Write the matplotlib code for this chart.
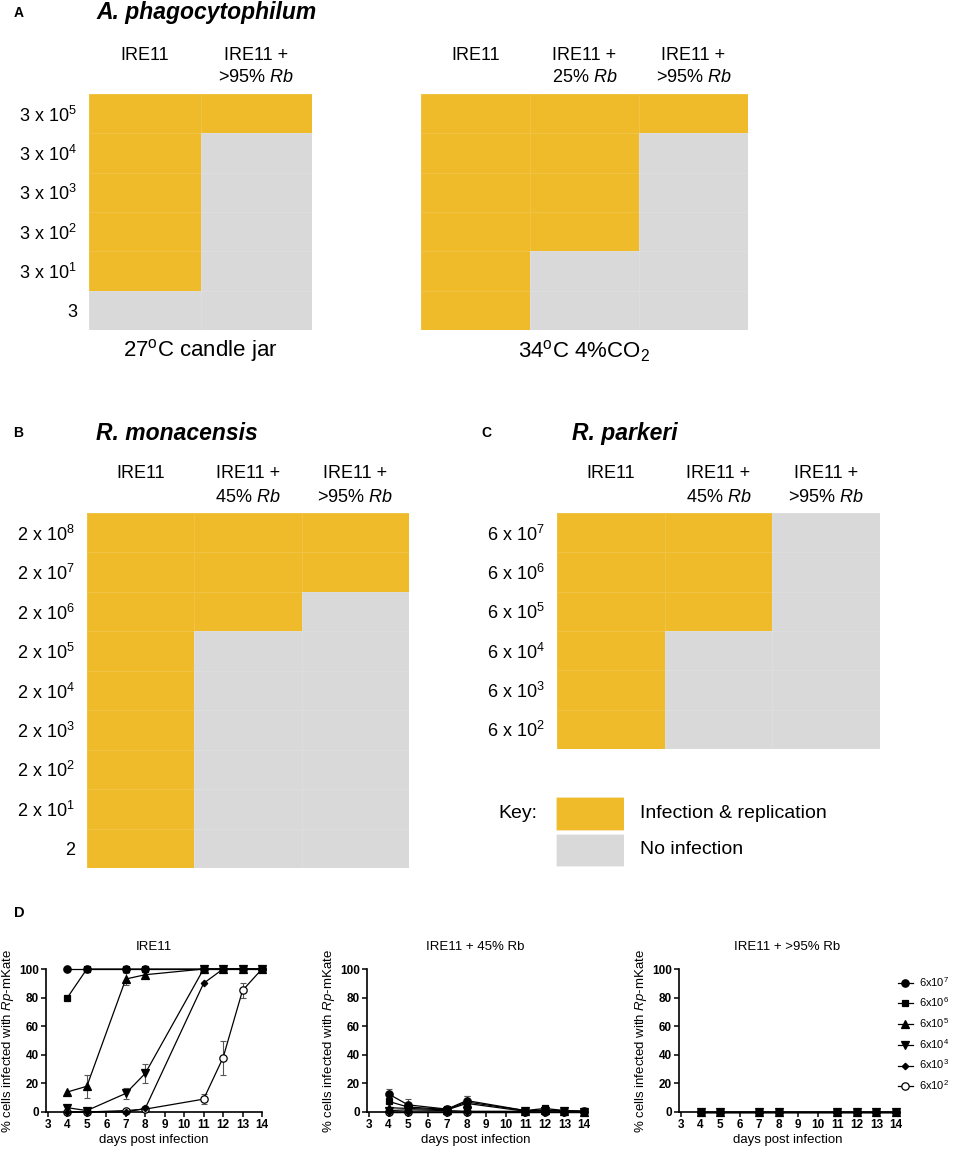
import numpy as np
import matplotlib
matplotlib.use("Agg")
import matplotlib.pyplot as plt
from matplotlib.colors import ListedColormap

plt.rcParams['font.family'] = ['Liberation Sans', 'DejaVu Sans']
plt.rcParams['mathtext.fontset'] = 'custom'
plt.rcParams['mathtext.rm'] = 'Liberation Sans'
plt.rcParams['mathtext.it'] = 'Liberation Sans:italic'
plt.rcParams['mathtext.bf'] = 'Liberation Sans:bold'

# ---------------------------------------------------
# Data
# ---------------------------------------------------
ORANGE = '#F0BB2B'
GRAY = '#D9D9D9'

# heat map panels (1 = infection & replication, 0 = no infection)
a_rows = [r'3 x 10$^5$', r'3 x 10$^4$', r'3 x 10$^3$', r'3 x 10$^2$', r'3 x 10$^1$', '3']
a_left_cols = ['IRE11', 'IRE11 +\n>95% $Rb$']
a_left = [[1, 1], [1, 0], [1, 0], [1, 0], [1, 0], [0, 0]]
a_right_cols = ['IRE11', 'IRE11 +\n25% $Rb$', 'IRE11 +\n>95% $Rb$']
a_right = [[1, 1, 1], [1, 1, 0], [1, 1, 0], [1, 1, 0], [1, 0, 0], [1, 0, 0]]

b_rows = [r'2 x 10$^8$', r'2 x 10$^7$', r'2 x 10$^6$', r'2 x 10$^5$', r'2 x 10$^4$',
          r'2 x 10$^3$', r'2 x 10$^2$', r'2 x 10$^1$', '2']
b_cols = ['IRE11', 'IRE11 +\n45% $Rb$', 'IRE11 +\n>95% $Rb$']
b_vals = [[1, 1, 1], [1, 1, 1], [1, 1, 0], [1, 0, 0], [1, 0, 0],
          [1, 0, 0], [1, 0, 0], [1, 0, 0], [1, 0, 0]]

c_rows = [r'6 x 10$^7$', r'6 x 10$^6$', r'6 x 10$^5$', r'6 x 10$^4$', r'6 x 10$^3$', r'6 x 10$^2$']
c_cols = ['IRE11', 'IRE11 +\n45% $Rb$', 'IRE11 +\n>95% $Rb$']
c_vals = [[1, 1, 0], [1, 1, 0], [1, 1, 0], [1, 0, 0], [1, 0, 0], [1, 0, 0]]

key_labels = ['Infection & replication', 'No infection']
key_vals = [1, 0]

# time course panels (D)
days = [4, 5, 7, 8, 11, 12, 13, 14]
doses = [r'6x10$^7$', r'6x10$^6$', r'6x10$^5$', r'6x10$^4$', r'6x10$^3$', r'6x10$^2$']

ire11 = [
    [100, 100, 100, 100, 100, 100, 100, 100],
    [80, 100, 100, 100, 100, 100, 100, 100],
    [14, 18, 93, 96, 100, 100, 100, 100],
    [3, 1, 13, 27, 100, 100, 100, 100],
    [0, 0, 0, 2.5, 90, 100, 100, 100],
    [0, 0, 1, 2, 9, 38, 85, 100],
]
ire11_err = [
    [0, 0, 0, 0, 0, 0, 0, 0],
    [0, 0, 0, 0, 0, 0, 0, 0],
    [0, 8, 4, 2, 0, 0, 0, 0],
    [1.5, 1, 4, 6.5, 0, 0, 0, 0],
    [0, 0, 0, 1, 0, 0, 0, 0],
    [0, 0, 0.5, 1, 3.5, 12, 5, 0],
]
rb45 = [
    [12.6, 5, 2, 8, 1, 1, 1, 0.5],
    [7.4, 3.5, 1.8, 7, 1, 2.5, 1, 0.5],
    [3, 2.5, 1.5, 6, 0.5, 1.5, 0.8, 0.3],
    [1, 1.5, 1, 0.5, 0.5, 1, 0.5, 0.3],
    [0, 0, 0, 0, 0, 0, 0, 0],
    [0, 0, 0, 0, 0, 0, 0, 0],
]
rb45_err = [
    [3.3, 4, 0.5, 3, 0, 0, 0, 0],
    [1, 2, 0.5, 4.5, 0.5, 1, 0.5, 0],
    [0.5, 1, 0.5, 2, 0, 0.5, 0, 0],
    [0, 0, 0, 0, 0, 0, 0, 0],
    [0, 0, 0, 0, 0, 0, 0, 0],
    [0, 0, 0, 0, 0, 0, 0, 0],
]
rb95 = [[0] * 8 for _ in range(6)]
rb95_err = [[0] * 8 for _ in range(6)]

# ---------------------------------------------------
# Layout helpers (pixel coordinates, origin top-left)
# ---------------------------------------------------
W, H = 957, 1157
fig = plt.figure(figsize=(W / 100, H / 100), dpi=100)
cmap = ListedColormap([GRAY, ORANGE])


def rect(x0, y0, x1, y1):
    return [x0 / W, 1 - y1 / H, (x1 - x0) / W, (y1 - y0) / H]


def ftext(x, y, s, **kw):
    fig.text(x / W, 1 - y / H, s, **kw)


def heat(box, vals, rows, cols, subtitle=None):
    ax = fig.add_axes(rect(*box))
    m = np.array(vals)
    ax.pcolormesh(m, cmap=cmap, vmin=0, vmax=1,
                  edgecolors=(1, 1, 1, 0.12), linewidth=0.6)
    ax.set_xlim(0, m.shape[1])
    ax.set_ylim(m.shape[0], 0)
    ax.set_yticks(np.arange(len(rows)) + 0.5, rows, fontsize=13)
    ax.set_xticks([])
    ax.tick_params(axis='y', length=0, pad=8.6)
    for sp in ax.spines.values():
        sp.set_visible(False)
    for i, c in enumerate(cols):
        lines = c.split('\n')
        for j, ln in enumerate(lines):
            off = 39 if j == 0 else 16
            ax.annotate(ln, xy=(i + 0.5, 1), xycoords=('data', 'axes fraction'),
                        xytext=(0, off * 0.72), textcoords='offset points',
                        ha='center', va='center', fontsize=13)
    if subtitle:
        ax.annotate(subtitle, xy=(0.5, 0), xycoords='axes fraction',
                    xytext=(0, -21 * 0.72), textcoords='offset points',
                    ha='center', va='center', fontsize=16)
    return ax


# ---------------------------------------------------
# Panels A - C
# ---------------------------------------------------
ftext(14, 13, 'A', fontsize=10, fontweight='bold', va='center')
ftext(96, 13, 'A. phagocytophilum', fontsize=16.5, fontweight='bold',
      fontstyle='italic', va='center')
heat((89, 94, 312, 330), a_left, a_rows, a_left_cols,
     subtitle='27$^{\\rm o}$C candle jar')
heat((421, 94, 748, 330), a_right, [''] * 6, a_right_cols,
     subtitle='34$^{\\rm o}$C 4%CO$_2$')

ftext(13, 433, 'B', fontsize=10, fontweight='bold', va='center')
ftext(96, 433, 'R. monacensis', fontsize=16.5, fontweight='bold',
      fontstyle='italic', va='center')
heat((87, 513, 409, 868), b_vals, b_rows, b_cols)

ftext(481, 433, 'C', fontsize=10, fontweight='bold', va='center')
ftext(572, 433, 'R. parkeri', fontsize=16.5, fontweight='bold',
      fontstyle='italic', va='center')
heat((557, 513, 880, 749), c_vals, c_rows, c_cols)

# key
ax_k = fig.add_axes(rect(556, 797, 624, 870))
ax_k.barh(range(len(key_vals)), 1, height=0.9,
          color=[cmap(v) for v in key_vals], edgecolor=(1, 1, 1, 0.3), linewidth=0.6)
ax_k.set_xlim(0, 1)
ax_k.set_ylim(len(key_vals) - 0.5 + 0.05, -0.5 + 0.05)
ax_k.axis('off')
for i, lab in enumerate(key_labels):
    ax_k.annotate(lab, xy=(1, i), xycoords='data', xytext=(16 * 0.72, 0),
                  textcoords='offset points', ha='left', va='center', fontsize=14)
ax_k.annotate('Key:', xy=(0, 0), xycoords='data', xytext=(-19 * 0.72, 0),
              textcoords='offset points', ha='right', va='center', fontsize=14)

# ---------------------------------------------------
# Panel D - time courses
# ---------------------------------------------------
ftext(14, 913, 'D', fontsize=10.5, fontweight='bold', va='center')

markers = ['o', 's', '^', 'v', 'D', 'o']
msizes = [5.3, 4.5, 5.3, 5.3, 3.3, 5.3]
mfaces = ['k', 'k', 'k', 'k', 'k', 'white']

panels = [
    ((46, 969, 262, 1112), 'IRE11', ire11, ire11_err, 1),
    ((367, 969, 584, 1112), 'IRE11 + 45% Rb', rb45, rb45_err, 0),
    ((679, 969, 896, 1112), 'IRE11 + >95% Rb', rb95, rb95_err, 0),
]

for k, (box, title, series, errs, top) in enumerate(panels):
    ax = fig.add_axes(rect(*box))
    for s in range(len(series)):
        y = np.array(series[s], dtype=float)
        e = np.array(errs[s], dtype=float)
        z = 20 if s == top else 10 - s
        ax.plot(days, y, color='k', lw=0.9, marker=markers[s], ms=msizes[s],
                mfc=mfaces[s], mec='k', mew=0.9, clip_on=False, zorder=z,
                label=doses[s])
        sel = e > 0
        if sel.any():
            ax.errorbar(np.array(days)[sel], y[sel], yerr=e[sel], fmt='none',
                        ecolor='#555555', elinewidth=0.8, capsize=2.5,
                        capthick=0.8, clip_on=False, zorder=2)
    ax.set_xlim(2.9, 14)
    ax.set_ylim(0, 100)
    ax.set_xticks(range(3, 15))
    ax.set_yticks(range(0, 101, 20))
    for lab in ax.get_xticklabels() + ax.get_yticklabels():
        lab.set_fontweight('bold')
    ax.tick_params(labelsize=8.5, width=1.1, length=3.5, pad=1.5)
    for sp in ['top', 'right']:
        ax.spines[sp].set_visible(False)
    for sp in ['left', 'bottom']:
        ax.spines[sp].set_linewidth(1.2)
    ax.set_title(title, fontsize=9.5, pad=14)
    ax.set_xlabel('days post infection', fontsize=9.5, labelpad=2)
    ax.set_ylabel('% cells infected with $Rp$-mKate', fontsize=9.5, labelpad=2)
    if k == 2:
        ax.legend(loc='upper left', bbox_to_anchor=(0.99, 0.99), frameon=False,
                  fontsize=8, handlelength=1.3, handletextpad=0.6,
                  labelspacing=0.62, borderaxespad=0)

fig.savefig('out.png', dpi=100)
